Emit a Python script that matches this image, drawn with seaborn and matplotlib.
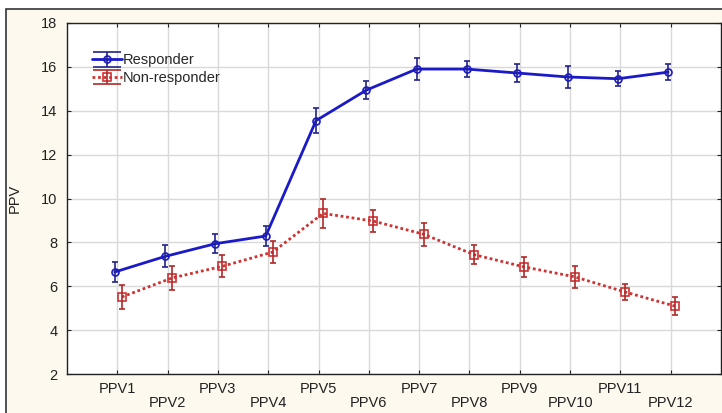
#!/usr/bin/env python3
"""PPV course for responders vs non-responders (mean +/- error)."""

import numpy as np
import seaborn as sns
import matplotlib
matplotlib.use("Agg")
import matplotlib.pyplot as plt
from matplotlib.patches import Rectangle
from matplotlib.legend_handler import HandlerTuple

# Data
categories = ["PPV1", "PPV2", "PPV3", "PPV4", "PPV5", "PPV6",
              "PPV7", "PPV8", "PPV9", "PPV10", "PPV11", "PPV12"]
responder = [6.65, 7.36, 7.94, 8.29, 13.55, 14.94, 15.90, 15.90, 15.72, 15.54, 15.46, 15.76]
responder_err = [0.47, 0.50, 0.44, 0.44, 0.56, 0.41, 0.49, 0.35, 0.41, 0.50, 0.34, 0.37]
non_responder = [5.51, 6.38, 6.91, 7.56, 9.32, 8.97, 8.37, 7.44, 6.88, 6.43, 5.74, 5.09]
non_responder_err = [0.55, 0.56, 0.50, 0.52, 0.66, 0.50, 0.53, 0.43, 0.44, 0.51, 0.38, 0.41]
y_ticks = [2, 4, 6, 8, 10, 12, 14, 16, 18]

sns.set_style("whitegrid")
plt.rcParams['font.family'] = ['Liberation Sans', 'DejaVu Sans']

fig = plt.figure(figsize=(7.22, 4.13), dpi=100)
fig.patch.set_facecolor("white")
# cream outer panel with dark frame, kept behind the axes
fig.add_artist(Rectangle((6 / 722, -0.1), 1.0, (413 - 9) / 413 + 0.1,
                         transform=fig.transFigure, facecolor="#fdf9ee",
                         edgecolor="#333333", linewidth=1.2, zorder=-10))
ax = fig.add_axes([67 / 722, 39 / 413, 654 / 722, 351 / 413])
ax.set_zorder(5)
ax.set_facecolor("white")

pos = np.arange(len(categories))
x_resp = pos - 0.05
x_non = pos + 0.09

blue, blue_err = "#1a1ac8", "#23238a"
red, red_err = "#d03232", "#b02a2a"

sns.lineplot(x=x_resp, y=responder, ax=ax, color=blue, linewidth=2.0,
             marker="o", markersize=5, markerfacecolor="none",
             markeredgecolor=blue, markeredgewidth=1.2, legend=False)
sns.lineplot(x=x_non, y=non_responder, ax=ax, color=red, linewidth=2.0,
             linestyle=(0, (1, 1)), marker="s", markersize=6,
             markerfacecolor="none", markeredgecolor=red,
             markeredgewidth=1.2, legend=False)
l_resp, l_non = ax.lines[0], ax.lines[1]

ax.errorbar(x_resp, responder, yerr=responder_err, fmt="none",
            ecolor=blue_err, elinewidth=1.2, capsize=2.5, capthick=1.2)
ax.errorbar(x_non, non_responder, yerr=non_responder_err, fmt="none",
            ecolor=red_err, elinewidth=1.2, capsize=2.5, capthick=1.2)

# wide-capped error symbols used only for the legend keys
key_resp = ax.errorbar([np.nan], [np.nan], yerr=[1], fmt="none",
                       ecolor=blue_err, elinewidth=1.2, capsize=10, capthick=1.2)
key_non = ax.errorbar([np.nan], [np.nan], yerr=[1], fmt="none",
                      ecolor=red_err, elinewidth=1.2, capsize=10, capthick=1.2)

ax.set_xlim(-1, 12)
ax.set_ylim(2, 18)
ax.set_yticks(y_ticks)
ax.set_xticks(pos)
ax.set_xticklabels([c if i % 2 == 0 else "\n" + c for i, c in enumerate(categories)],
                   linespacing=1.0)
ax.tick_params(axis="both", labelsize=10.5, colors="#222222", direction="in",
               length=3, top=True, right=True, bottom=True, left=True)
ax.tick_params(axis="x", pad=6)
ax.tick_params(axis="y", pad=7)
ax.grid(True, color="#d9d9d9", linewidth=1.0)
for side in ["left", "right", "top", "bottom"]:
    ax.spines[side].set_visible(True)
    ax.spines[side].set_color("#222222")
    ax.spines[side].set_linewidth(1.0)

ax.set_ylabel("PPV", fontsize=10.5, color="#222222", labelpad=14)
ax.set_xlabel("")

ax.legend([(l_resp, key_resp), (l_non, key_non)], ["Responder", "Non-responder"],
          handler_map={tuple: HandlerTuple(ndivide=1)},
          loc="upper left", bbox_to_anchor=(0.03, 0.93), frameon=False,
          fontsize=10.5, handlelength=2.0, handletextpad=0.1,
          labelspacing=0.25, borderaxespad=0)

fig.savefig("out.png", dpi=100, facecolor=fig.get_facecolor())
